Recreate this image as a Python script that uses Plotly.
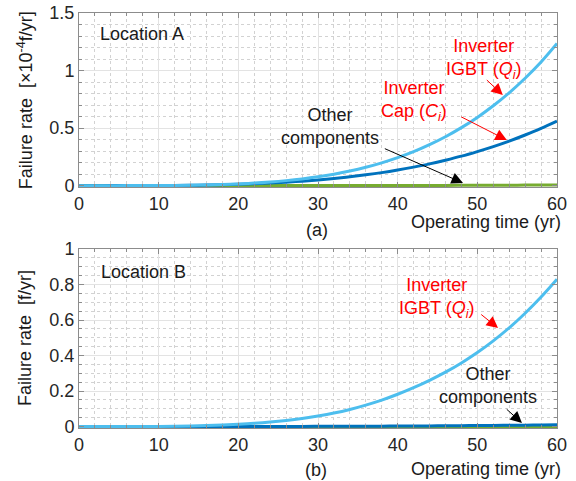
import plotly.graph_objects as go

# ---------------- data ----------------
years = [0, 2, 4, 6, 8, 10, 12, 14, 16, 18, 20, 22, 24, 26, 28, 30,
         32, 34, 36, 38, 40, 42, 44, 46, 48, 50, 52, 54, 56, 58, 60]

# Location A  [x10^-4 f/yr]
igbt_a = [0, 0, 0.00002, 0.0001, 0.0004, 0.0009, 0.002, 0.0036, 0.0062, 0.010,
          0.0152, 0.022, 0.0315, 0.0434, 0.0583, 0.0769, 0.0995, 0.1268, 0.1594,
          0.198, 0.243, 0.295, 0.356, 0.425, 0.504, 0.593, 0.694, 0.807, 0.933,
          1.074, 1.235]
cap_a = [0, 0, 0.00004, 0.0002, 0.0005, 0.0011, 0.002, 0.0034, 0.0055, 0.0083,
         0.012, 0.0167, 0.0227, 0.030, 0.0389, 0.0495, 0.062, 0.0767, 0.0937,
         0.113, 0.1355, 0.161, 0.189, 0.221, 0.256, 0.296, 0.339, 0.387, 0.440,
         0.497, 0.56]
other_a = [0, 0, 0, 0, 0, 0, 0, 0, 0, 0, 0.0001, 0.0001, 0.0002, 0.0003, 0.0003,
           0.0004, 0.0005, 0.0007, 0.0008, 0.001, 0.0012, 0.0015, 0.0018, 0.0021,
           0.0025, 0.003, 0.0035, 0.004, 0.0046, 0.0052, 0.006]

# Location B  [f/yr]
igbt_b = [0, 0, 0.00003, 0.00013, 0.0004, 0.0009, 0.0018, 0.0033, 0.0055, 0.0085,
          0.0128, 0.0183, 0.0255, 0.0346, 0.0458, 0.0596, 0.0761, 0.0965, 0.121,
          0.149, 0.182, 0.219, 0.2604, 0.3064, 0.3585, 0.4172, 0.4829, 0.5562,
          0.6385, 0.7297, 0.83]
cap_b = [0, 0, 0, 0, 0, 0, 0.0001, 0.0001, 0.0002, 0.0003, 0.0004, 0.0005, 0.0006,
         0.0008, 0.001, 0.0013, 0.0015, 0.0018, 0.0022, 0.0025, 0.003, 0.0034,
         0.0039, 0.0045, 0.0051, 0.0058, 0.0065, 0.0073, 0.0081, 0.009, 0.010]
other_b = [0] * 10 + [0.0001] * 11 + [0.0002] * 10

x_ticks = [0, 10, 20, 30, 40, 50, 60]
ya_ticks = [0, 0.5, 1, 1.5]
ya_labels = ["0", "0.5", "1", "1.5"]
yb_ticks = [0, 0.2, 0.4, 0.6, 0.8, 1]
yb_labels = ["0", "0.2", "0.4", "0.6", "0.8", "1"]

# ---------------- styles ----------------
C_IGBT = "#4DBEEE"
C_CAP = "#0072BD"
C_OTHER = "#77AC30"
FONT = "Liberation Sans, Arial, sans-serif"
LW = 3

fig = go.Figure()

def add(x, y, color, xa, ya, name):
    fig.add_trace(go.Scatter(x=x, y=y, mode="lines", name=name,
                             line=dict(color=color, width=LW, shape="spline"),
                             xaxis=xa, yaxis=ya, showlegend=False))

add(years, other_a, C_OTHER, "x", "y", "Other components")
add(years, cap_a, C_CAP, "x", "y", "Inverter Cap")
add(years, igbt_a, C_IGBT, "x", "y", "Inverter IGBT")
add(years, other_b, C_OTHER, "x2", "y2", "Other components")
add(years, cap_b, C_CAP, "x2", "y2", "Inverter Cap")
add(years, igbt_b, C_IGBT, "x2", "y2", "Inverter IGBT")

common = dict(
    showline=True, linecolor="#8c8c8c", linewidth=1, mirror="allticks",
    ticks="inside", ticklen=5, tickcolor="#8c8c8c",
    showgrid=True, gridcolor="#e3e3e3", gridwidth=1,
    zeroline=False, automargin=False, ticklabeloverflow="allow",
    tickfont=dict(family=FONT, size=18, color="#262626"),
)

fig.update_layout(
    width=576, height=481,
    margin=dict(l=79, r=19, t=13, b=53, autoexpand=False),
    paper_bgcolor="white", plot_bgcolor="white",
    font=dict(family=FONT, size=18, color="#262626"),
    xaxis=dict(domain=[0, 1], anchor="y", range=[0, 60.0001], tickvals=x_ticks,
               minor=dict(dtick=2, ticks="inside", ticklen=3, tickcolor="#8c8c8c",
                          showgrid=True, gridcolor="#d2d2d2", griddash="dot"),
               **common),
    yaxis=dict(domain=[0.5807, 1], anchor="x", range=[-0.012, 1.5002],
               tickvals=ya_ticks, ticktext=ya_labels,
               minor=dict(dtick=0.1, tick0=0, ticks="inside", ticklen=3, tickcolor="#8c8c8c",
                          showgrid=True, gridcolor="#d2d2d2", griddash="dot"),
               **common),
    xaxis2=dict(domain=[0, 1], anchor="y2", range=[0, 60.0001], tickvals=x_ticks,
                minor=dict(dtick=2, ticks="inside", ticklen=3, tickcolor="#8c8c8c",
                           showgrid=True, gridcolor="#d2d2d2", griddash="dot"),
                **common),
    yaxis2=dict(domain=[0, 0.4313], anchor="x2", range=[-0.008, 1.0002],
                tickvals=yb_ticks, ticktext=yb_labels,
                minor=dict(dtick=0.05, tick0=0, ticks="inside", ticklen=3, tickcolor="#8c8c8c",
                           showgrid=True, gridcolor="#d2d2d2", griddash="dot"),
                **common),
)

ann = []
def text(x, y, s, xref, yref, color="#1a1a1a", xanchor="center", yanchor="middle",
         angle=0, align="center", size=18):
    ann.append(dict(x=x, y=y, text=s, xref=xref, yref=yref, showarrow=False,
                    xanchor=xanchor, yanchor=yanchor, textangle=angle, align=align,
                    font=dict(family=FONT, size=size, color=color)))

def arrow(x, y, ax, ay, xref, yref, color):
    ann.append(dict(x=x, y=y, ax=ax, ay=ay, xref=xref, yref=yref,
                    axref=xref, ayref=yref, text="", showarrow=True,
                    arrowhead=2, arrowsize=2.3, arrowwidth=1, arrowcolor=color))

RED = "#ff0000"
# ---- panel (a)
text(2.38, 1.32, "Location A", "x", "y", xanchor="left")
text(50.8, 1.10, "Inverter<br>IGBT (<i>Q</i><sub><i>i</i></sub>)", "x", "y", color=RED)
arrow(53.2, 0.787, 51.0, 0.93, "x", "y", RED)
text(42.0, 0.735, "Inverter<br>Cap (<i>C</i><sub><i>i</i></sub>)", "x", "y", color=RED)
arrow(53.7, 0.396, 47.8, 0.604, "x", "y", RED)
text(31.5, 0.51, "Other<br>components", "x", "y")
arrow(48.2, 0.023, 38.2, 0.327, "x", "y", "black")
text(1.0126, 0.4965, "Operating time (yr)", "paper", "paper", xanchor="right")
text(0.498, 0.477, "(a)", "paper", "paper")
text(-0.113, 0.790, "Failure rate \u00a0[×10<sup>-4</sup>f/yr]", "paper", "paper", angle=-90)

# ---- panel (b)
text(2.5, 0.873, "Location B", "x2", "y2", xanchor="left")
text(44.9, 0.724, "Inverter<br>IGBT (<i>Q</i><sub><i>i</i></sub>)", "x2", "y2", color=RED)
arrow(52.6, 0.555, 50.3, 0.638, "x2", "y2", RED)
text(51.3, 0.234, "Other<br>components", "x2", "y2")
arrow(55.6, 0.020, 53.5, 0.105, "x2", "y2", "black")
text(1.0126, -0.0988, "Operating time (yr)", "paper", "paper", xanchor="right")
text(0.496, -0.101, "(b)", "paper", "paper")
text(-0.113, 0.217, "Failure rate \u00a0[f/yr]", "paper", "paper", angle=-90)

fig.update_layout(annotations=ann)
# remove the browser's default 8px body margin so the figure fills the window
fig.write_html("out.html", config={"displayModeBar": False},
               post_script="document.body.style.margin='0';document.body.style.overflow='hidden';")
